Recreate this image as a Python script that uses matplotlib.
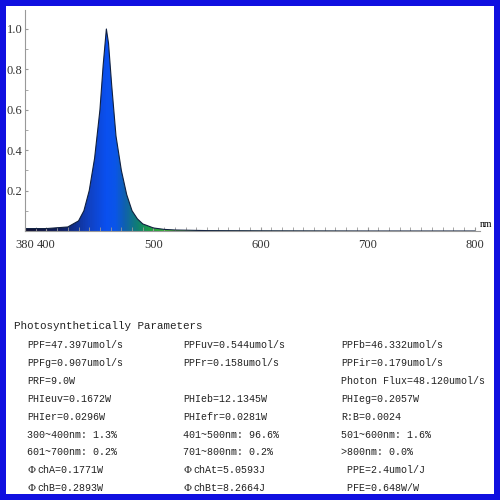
import numpy as np
import matplotlib.pyplot as plt
from matplotlib.colors import LinearSegmentedColormap
from matplotlib.patches import Rectangle, Polygon

# spectrum (nm, relative intensity)
wl = [380, 400, 420, 430, 435, 440, 445, 450, 453, 456, 458, 461, 465, 470, 475, 480, 485, 490, 500, 510, 520, 550, 600, 700, 800]
inten = [0.012, 0.012, 0.02, 0.05, 0.1, 0.2, 0.36, 0.6, 0.82, 1.0, 0.93, 0.72, 0.47, 0.3, 0.18, 0.1, 0.06, 0.035, 0.015, 0.008, 0.005, 0.002, 0.001, 0.0, 0.0]

xticks = [380, 400, 500, 600, 700, 800]
yticks = [0.2, 0.4, 0.6, 0.8, 1.0]

rows = [
    ["PPF=47.397umol/s", "PPFuv=0.544umol/s", "PPFb=46.332umol/s"],
    ["PPFg=0.907umol/s", "PPFr=0.158umol/s", "PPFir=0.179umol/s"],
    ["PRF=9.0W", "", "Photon Flux=48.120umol/s"],
    ["PHIeuv=0.1672W", "PHIeb=12.1345W", "PHIeg=0.2057W"],
    ["PHIer=0.0296W", "PHIefr=0.0281W", "R:B=0.0024"],
    ["300~400nm: 1.3%", "401~500nm: 96.6%", "501~600nm: 1.6%"],
    ["601~700nm: 0.2%", "701~800nm: 0.2%", ">800nm: 0.0%"],
    ["\u03a6chA=0.1771W", "\u03a6chAt=5.0593J", " PPE=2.4umol/J"],
    ["\u03a6chB=0.2893W", "\u03a6chBt=8.2664J", " PFE=0.648W/W"],
]

fig = plt.figure(figsize=(5, 5), dpi=100, facecolor='#1010e0')
fig.patches.append(Rectangle((0.012, 0.012), 0.976, 0.976, transform=fig.transFigure,
                             facecolor='white', edgecolor='none', zorder=-5))

ax = fig.add_axes([0.05, 0.538, 0.91, 0.442])
ax.set_zorder(5)
ax.set_facecolor('none')
ax.set_xlim(380, 805)
ax.set_ylim(0, 1.094)

# wavelength colours, gradient clipped to the curve
cmap = LinearSegmentedColormap.from_list('spec', [
    (0.0, '#101030'), (0.08, '#102060'), (0.14, '#1040c0'), (0.18, '#0a50f0'),
    (0.2, '#0a55e8'), (0.22, '#1060b0'), (0.25, '#108070'), (0.28, '#20a040'),
    (0.35, '#60c030'), (1.0, '#80c020')])
grad = np.linspace(0, 1, 512).reshape(1, -1)
im = ax.imshow(grad, extent=[380, 800, 0, 1.05], aspect='auto', cmap=cmap, zorder=1)
poly = Polygon(list(zip(wl, inten)) + [(800, 0), (380, 0)], closed=True,
               facecolor='none', edgecolor='none', transform=ax.transData)
ax.add_patch(poly)
im.set_clip_path(poly)
ax.plot(wl, inten, color='#102040', lw=0.8, zorder=2)

ax.set_xticks(xticks)
ax.set_xticks(np.arange(380, 801, 10), minor=True)
ax.set_yticks(yticks)
ax.set_yticks(np.arange(0.1, 1.05, 0.1), minor=True)
for lab in ax.get_xticklabels() + ax.get_yticklabels():
    lab.set_family('Liberation Serif')
    lab.set_fontsize(9)
    lab.set_color('#333333')
ax.tick_params(axis='x', which='both', direction='in', length=3, color='#999999', pad=6)
ax.tick_params(axis='y', which='both', direction='in', length=2, color='#999999', pad=2)
for s in ['top', 'right']:
    ax.spines[s].set_visible(False)
ax.spines['left'].set_color('#999999')
ax.spines['bottom'].set_color('#999999')
ax.text(1.0, 0.01, 'nm', transform=ax.transAxes, fontsize=7, family='Liberation Serif', va='bottom')

mono = ['Liberation Mono', 'DejaVu Sans']
fig.text(0.028, 1 - 326 / 500, 'Photosynthetically Parameters', family=mono, fontsize=7.8,
         va='center', color='#222222')
cols = [0.054, 0.366, 0.682]
for i, row in enumerate(rows):
    y = 1 - (345 + i * 17.9) / 500
    for x, t in zip(cols, row):
        if t.startswith('\u03a6'):
            fig.text(x, y, '\u03a6', family='DejaVu Serif', fontsize=7.2, va='center', color='#222222')
            fig.text(x + 0.02, y, t[1:], family=mono, fontsize=7.2, va='center', color='#222222')
        else:
            fig.text(x, y, t, family=mono, fontsize=7.2, va='center', color='#222222')

fig.savefig('out.png', dpi=100, facecolor=fig.get_facecolor())
